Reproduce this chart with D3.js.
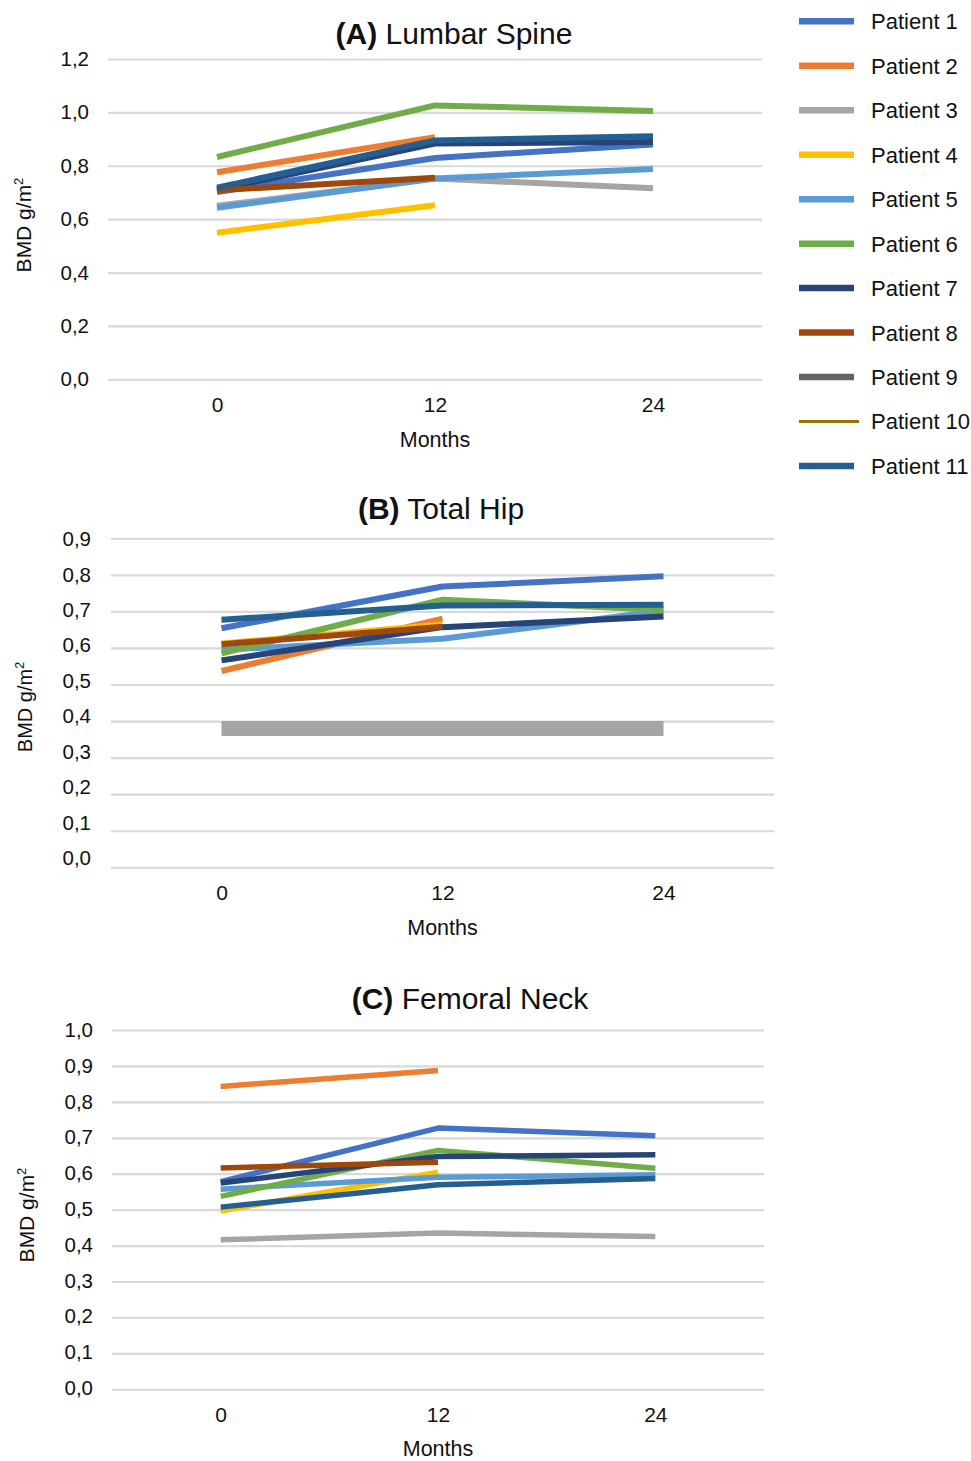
<!DOCTYPE html>
<html><head><meta charset="utf-8">
<script src="https://cdn.jsdelivr.net/npm/d3@7"></script>
<style>
body{margin:0;background:#fff;}
svg text{font-family:"Liberation Sans",Arial,sans-serif;fill:#111;}
</style></head>
<body><svg id="chart" width="971" height="1461"></svg>
<script>
const months = [0, 12, 24];
const patients = ["Patient 1","Patient 2","Patient 3","Patient 4","Patient 5","Patient 6","Patient 7","Patient 8","Patient 9","Patient 10","Patient 11"];
const colors = ["#4472C4","#ED7D31","#A5A5A5","#FFC000","#5B9BD5","#70AD47","#264478","#9E480E","#636363","#997300","#255E91"];

// BMD values per patient (rows) at 0, 12, 24 months
const lumbarSpine = [
  [0.702, 0.829, 0.880],
  [0.776, 0.907, null],
  [0.650, 0.752, 0.716],
  [0.549, 0.652, null],
  [0.643, 0.752, 0.788],
  [0.833, 1.026, 1.005],
  [0.710, 0.883, 0.889],
  [0.708, 0.755, null],
  [null, null, null],
  [null, null, null],
  [0.718, 0.895, 0.911]
];
const totalHip = [
  [0.654, 0.768, 0.796],
  [0.537, 0.680, null],
  [0.380, 0.380, 0.380],
  [0.612, 0.664, null],
  [0.595, 0.625, 0.702],
  [0.585, 0.732, 0.704],
  [0.566, 0.657, 0.686],
  [0.610, 0.658, null],
  [null, null, null],
  [null, null, null],
  [0.677, 0.716, 0.718]
];
const femoralNeck = [
  [0.578, 0.727, 0.706],
  [0.843, 0.887, null],
  [0.416, 0.435, 0.425],
  [0.496, 0.604, null],
  [0.557, 0.590, 0.597],
  [0.537, 0.665, 0.615],
  [0.574, 0.648, 0.653],
  [0.616, 0.632, null],
  [null, null, null],
  [null, null, null],
  [0.507, 0.569, 0.587]
];
const spineTicks = [0, 0.2, 0.4, 0.6, 0.8, 1.0, 1.2];
const hipTicks = [0, 0.1, 0.2, 0.3, 0.4, 0.5, 0.6, 0.7, 0.8, 0.9];
const neckTicks = [0, 0.1, 0.2, 0.3, 0.4, 0.5, 0.6, 0.7, 0.8, 0.9, 1.0];

const svg = d3.select("#chart");
const fmt = v => d3.format(".1f")(v).replace(".", ",");

const panels = [
  {letter:"(A)", name:" Lumbar Spine", data:lumbarSpine, ticks:spineTicks, ymax:1.2,
   x0:108, x1:762, yTop:59, yBot:379.3, labTop:59, labBot:379.3, labX:89,
   titleX:454, titleY:44, tickY:412, monthsY:447, yTitleX:31, yTitleY:225, yTitleSize:21, lw:6},
  {letter:"(B)", name:" Total Hip", data:totalHip, ticks:hipTicks, ymax:0.9,
   x0:111, x1:774, yTop:538.3, yBot:867.3, labTop:539, labBot:858, labX:91,
   titleX:441, titleY:519, tickY:900, monthsY:935, yTitleX:32, yTitleY:707, yTitleSize:20, lw:6},
  {letter:"(C)", name:" Femoral Neck", data:femoralNeck, ticks:neckTicks, ymax:1.0,
   x0:112, x1:764, yTop:1030, yBot:1389.3, labTop:1030, labBot:1388, labX:93,
   titleX:470, titleY:1009, tickY:1422, monthsY:1455.5, yTitleX:34, yTitleY:1215, yTitleSize:21, lw:5.5}
];

panels.forEach((p, pi) => {
  const g = svg.append("g");
  const x = d3.scalePoint().domain(months).range([p.x0, p.x1]).padding(0.5);
  const y = d3.scaleLinear().domain([0, p.ymax]).range([p.yBot, p.yTop]);
  const yLab = d3.scaleLinear().domain([0, p.ymax]).range([p.labBot, p.labTop]);

  // gridlines
  const grid = g.append("g").attr("transform", `translate(${p.x0},0)`)
    .call(d3.axisLeft(y).tickValues(p.ticks).tickSize(-(p.x1 - p.x0)).tickFormat(""));
  grid.select(".domain").remove();
  grid.selectAll("line").attr("stroke", "#D9D9D9").attr("stroke-width", 2.2);

  // y tick labels
  const ya = g.append("g").attr("transform", `translate(${p.labX},0)`)
    .call(d3.axisLeft(yLab).tickValues(p.ticks).tickSize(0).tickPadding(0).tickFormat(fmt));
  ya.select(".domain").remove();
  ya.selectAll("text").attr("font-size", 20.5).attr("font-family", "Liberation Sans, Arial, sans-serif").attr("fill", "#111");

  // x tick labels
  const xa = g.append("g").attr("transform", `translate(0,${p.tickY})`)
    .call(d3.axisBottom(x).tickSize(0).tickPadding(0));
  xa.select(".domain").remove();
  xa.selectAll("text").attr("dy", null).attr("y", 0).attr("font-size", 21)
    .attr("font-family", "Liberation Sans, Arial, sans-serif").attr("fill", "#111");

  // axis titles
  g.append("text").attr("x", (p.x0 + p.x1) / 2).attr("y", p.monthsY)
    .attr("text-anchor", "middle").attr("font-size", 21.5).text("Months");
  const yt = g.append("text").attr("transform", `translate(${p.yTitleX},${p.yTitleY}) rotate(-90)`)
    .attr("text-anchor", "middle").attr("font-size", p.yTitleSize);
  yt.append("tspan").text("BMD g/m");
  yt.append("tspan").attr("dy", -p.yTitleSize * 0.4).attr("font-size", p.yTitleSize * 0.62).text("2");

  // chart title
  const tt = g.append("text").attr("x", p.titleX).attr("y", p.titleY)
    .attr("text-anchor", "middle").attr("font-size", 30);
  tt.append("tspan").attr("font-weight", "bold").text(p.letter);
  tt.append("tspan").text(p.name);

  // series lines
  const line = d3.line().defined(d => d.v !== null).x(d => x(d.m)).y(d => y(d.v));
  p.data.forEach((row, i) => {
    const pts = row.map((v, j) => ({m: months[j], v: v}));
    if (pts.every(d => d.v === null)) return;
    const thick = (pi === 1 && i === 2);
    g.append("path").datum(pts).attr("d", line)
      .attr("fill", "none").attr("stroke", colors[i])
      .attr("stroke-width", thick ? 15 : p.lw)
      .attr("stroke-linejoin", "round").attr("stroke-linecap", "butt");
  });
});

// legend
const leg = svg.append("g");
const ly = d3.scalePoint().domain(patients).range([21.3, 466]);
patients.forEach((name, i) => {
  const isThin = name === "Patient 10";
  leg.append("line").attr("x1", 799).attr("x2", isThin ? 859 : 854)
    .attr("y1", ly(name)).attr("y2", ly(name))
    .attr("stroke", colors[i]).attr("stroke-width", isThin ? 3 : 6.5);
  leg.append("text").attr("x", 871).attr("y", ly(name)).attr("dy", "0.36em")
    .attr("font-size", 22).text(name);
});
</script></body></html>
